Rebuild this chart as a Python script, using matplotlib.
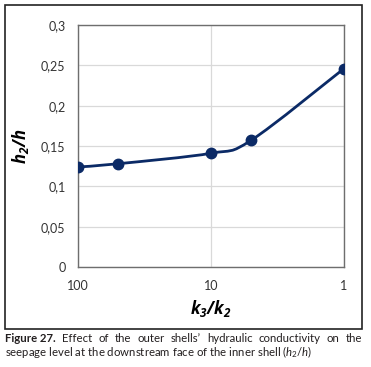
import numpy as np
import matplotlib
matplotlib.use("Agg")
import matplotlib.pyplot as plt
from matplotlib.path import Path
from matplotlib.patches import PathPatch, Rectangle

# data
k_ratio = [100, 50, 10, 5, 1]
h_ratio = [0.124, 0.128, 0.141, 0.157, 0.246]
y_ticks = [0, 0.05, 0.1, 0.15, 0.2, 0.25, 0.3]
y_tick_labels = ["0", "0,05", "0,1", "0,15", "0,2", "0,25", "0,3"]
x_ticks = [100, 10, 1]
x_tick_labels = ["100", "10", "1"]

navy = "#0b2a66"
plt.rcParams["font.family"] = ["Lato", "DejaVu Sans"]
plt.rcParams["mathtext.fontset"] = "custom"
plt.rcParams["mathtext.rm"] = "Lato"
plt.rcParams["mathtext.it"] = "Lato:italic"
plt.rcParams["mathtext.bf"] = "Open Sans:bold:italic"

fig = plt.figure(figsize=(3.71, 3.67), dpi=100)
ax = fig.add_axes([78 / 371, 1 - 267 / 367, 266 / 371, 242 / 367])

# excel-like smoothed line: cubic bezier through the points in log-x space
u = np.log10(k_ratio)
v = np.array(h_ratio)
verts = [(u[0], v[0])]
codes = [Path.MOVETO]
n = len(u)
for i in range(n - 1):
    a = max(i - 1, 0)
    b = min(i + 2, n - 1)
    c1 = (u[i] + (u[i + 1] - u[a]) / 6, v[i] + (v[i + 1] - v[a]) / 6)
    c2 = (u[i + 1] - (u[b] - u[i]) / 6, v[i + 1] - (v[b] - v[i]) / 6)
    verts += [c1, c2, (u[i + 1], v[i + 1])]
    codes += [Path.CURVE4] * 3
verts = [(10 ** x, y) for x, y in verts]
ax.add_patch(PathPatch(Path(verts, codes), fill=False, edgecolor=navy, lw=2, zorder=3))
ax.plot(k_ratio, h_ratio, "o", color=navy, ms=7.5, zorder=4)

ax.set_xscale("log")
ax.set_xlim(100, 1)
ax.set_ylim(0, 0.3)
ax.set_xticks(x_ticks)
ax.set_xticklabels(x_tick_labels)
ax.minorticks_off()
ax.set_yticks(y_ticks)
ax.set_yticklabels(y_tick_labels)
ax.tick_params(length=0, labelsize=9, colors="#333333", pad=9)
ax.grid(True, color="#d9d9d9", lw=0.9)
ax.set_axisbelow(True)
for s in ax.spines.values():
    s.set_color("#6e6e6e")
    s.set_linewidth(1)

ax.set_xlabel(r"$\mathbf{k_3/k_2}$", fontsize=12, labelpad=5)
ax.set_ylabel(r"$\mathbf{h_2/h}$", fontsize=12, labelpad=7)

# outer frame around the chart
fig.patches.append(Rectangle((5 / 371, 1 - 329 / 367), 357 / 371, 324 / 367,
                             transform=fig.transFigure, fill=False,
                             edgecolor="#222222", lw=1.2))

# caption, first line justified between the frame edges
cap_size = 8.2
cap_color = "#231f20"
words = ["Figure 27.", "Effect", "of", "the", "outer", "shells\u2019", "hydraulic",
         "conductivity", "on", "the"]
renderer = fig.canvas.get_renderer()
items = []
for i, w in enumerate(words):
    t = fig.text(0, 1 - 338 / 367, w, fontsize=cap_size, va="center", ha="left",
                 color=cap_color, fontweight="bold" if i == 0 else "normal")
    items.append((t, t.get_window_extent(renderer).width))
left, right = 5, 362
gap = (right - left - sum(wd for _, wd in items)) / (len(items) - 1)
xpos = left
for t, wd in items:
    t.set_x(xpos / 371)
    xpos += wd + gap
fig.text(5 / 371, 1 - 352 / 367,
         r"seepage level at the downstream face of the inner shell ($h_2/h$)",
         fontsize=cap_size, va="center", ha="left", color=cap_color)

fig.savefig("out.png", dpi=100)
